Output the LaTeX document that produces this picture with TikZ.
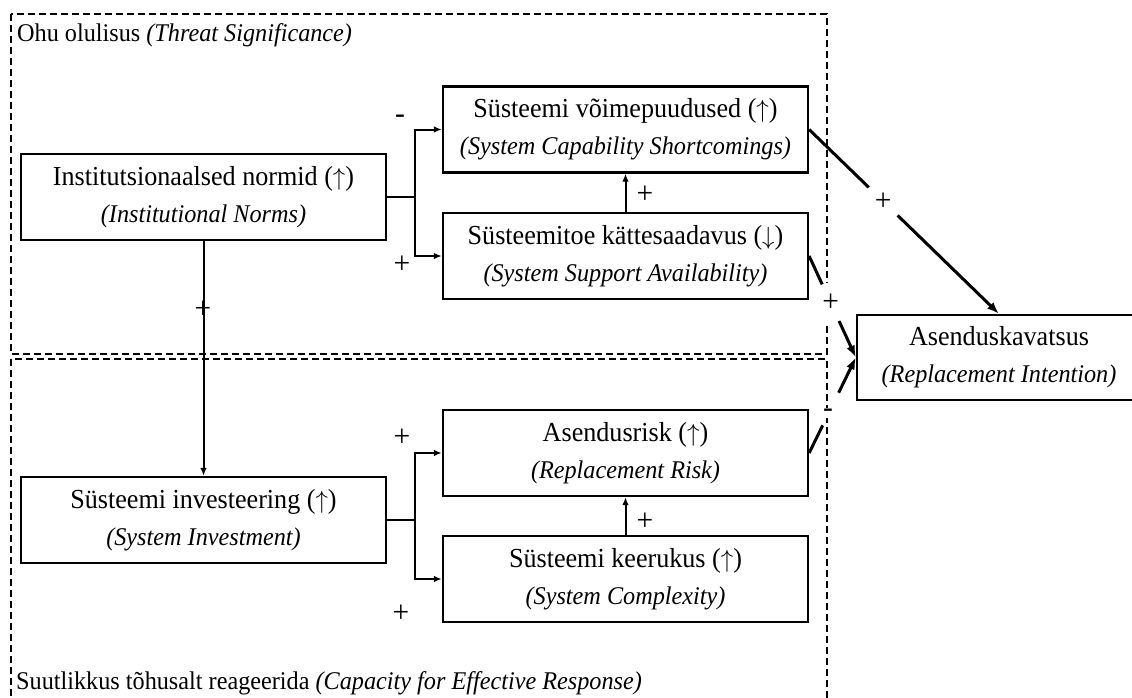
\documentclass[tikz,border=0pt]{standalone}
\usepackage{fontspec}
\setmainfont{Liberation Serif}[FakeStretch=0.95]
\usetikzlibrary{arrows.meta,calc}

\newcommand{\subline}[1]{{\fontsize{25.5}{37}\selectfont\itshape #1}}
\newcommand{\rises}{($\uparrow$)}
\newcommand{\falls}{($\downarrow$)}

\begin{document}
\begin{tikzpicture}[x=1pt,y=-1pt,
  box/.style={draw, line width=2.3pt, minimum width=365pt, minimum height=86pt,
    inner sep=0pt, align=center, font=\fontsize{27.5}{37}\selectfont},
  bond/.style={line width=2pt},
  link/.style={bond, -{Latex[length=8pt,width=6.5pt]}},
  strong/.style={line width=3pt},
  sign/.style={font=\fontsize{31}{32}\selectfont, inner sep=0pt},
  gap/.style={sign, circle, minimum size=40pt},
  region/.style={dash pattern=on 7pt off 4pt, line width=1.6pt},
  caption/.style={font=\fontsize{25.5}{28}\selectfont, anchor=base west, inner sep=0pt}]

\useasboundingbox (0,0) rectangle (1132,697);

% the two dashed regions
\draw[region] (11,14) rectangle (827,354);
\draw[region] (11,359) rectangle (827,720);

\node[caption] (threat) at (17,41) {Ohu olulisus \textit{(Threat Significance)}};
\node[caption] (capacity) at (16,689) {Suutlikkus tõhusalt reageerida \textit{(Capacity for Effective Response)}};

% factor boxes
\node[box] (norms) at (203.5,197) {Institutsionaalsed normid \rises\\\subline{(Institutional Norms)}};
\node[box] (short) at (625.5,129.5) {Süsteemi võimepuudused \rises\\\subline{(System Capability Shortcomings)}};
\node[box] (support) at (625.5,256) {Süsteemitoe kättesaadavus \falls\\\subline{(System Support Availability)}};
\node[box] (invest) at (203.5,520) {Süsteemi investeering \rises\\\subline{(System Investment)}};
\node[box] (risk) at (625.5,453) {Asendusrisk \rises\\\subline{(Replacement Risk)}};
\node[box] (complex) at (625.5,579) {Süsteemi keerukus \rises\\\subline{(System Complexity)}};
\node[box, minimum width=284pt, minimum height=85pt] (intent) at (999,357.5) {Asenduskavatsus\\\subline{(Replacement Intention)}};

% upper fork
\draw[bond] (norms.east) -- ++(28,0) coordinate (fork1);
\draw[link] (fork1) |- (short.west);
\draw[link] (fork1) |- (support.west);
\draw[link] (support) -- (short);
\draw[link] (norms) -- (invest);

% lower fork
\draw[bond] (invest.east) -- ++(28,0) coordinate (fork2);
\draw[link] (fork2) |- (risk.west);
\draw[link] (fork2) |- (complex.west);
\draw[link] (complex) -- (risk);

% signs on the thin links
\node[sign] (m1) at (400,119) {-};
\node[sign] (p1) at (402,265) {+};
\node[sign] (p2) at (203,310) {+};
\node[sign] (p3) at (645,195) {+};
\node[sign] (p4) at (402,438) {+};
\node[sign] (p5) at (645,522) {+};
\node[sign] (p6) at (401,614) {+};

% heavy links into the intention, broken by their signs
\node[gap] (s1) at ($(short.east)!0.39!(intent.north)$) {+};
\draw[strong] (short.east) -- (s1);
\draw[strong, -{Latex[length=12pt,width=9pt]}] (s1) -- (intent.north);

\node[gap, fill=white] (s2) at ($(support.east)!0.46!(intent.west)$) {+};
\draw[strong] (support.east) -- (s2);
\draw[strong, -{Latex[length=12pt,width=9pt]}] (s2) -- (intent.west);

\node[gap, minimum size=36pt] (s3) at ($(risk.east)!0.46!(intent.west)$) {};
\draw[strong] (risk.east) -- (s3);
\draw[strong, -{Latex[length=12pt,width=9pt]}] (s3) -- (intent.west);
\node[sign, fill=white, inner sep=1pt] (m2) at (828,413) {-};
\end{tikzpicture}
\end{document}
